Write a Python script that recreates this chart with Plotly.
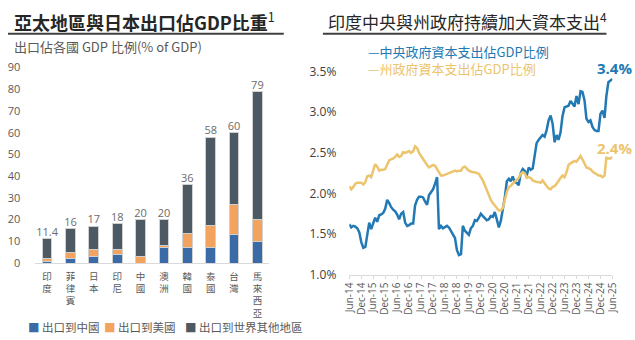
import plotly.graph_objects as go
import pandas as pd

# ---------------- Left chart data ----------------
countries = ["印度", "菲律賓", "日本", "印尼", "中國", "澳洲", "韓國", "泰國", "台灣", "馬來西亞"]
to_china = [0.6, 2.0, 2.9, 3.9, 0.0, 7.3, 7.3, 7.3, 13.0, 10.1]
to_us = [1.6, 2.8, 3.2, 2.2, 2.9, 0.9, 6.5, 9.8, 14.0, 9.9]
to_rest = [9.2, 11.2, 10.9, 11.9, 17.1, 11.8, 22.2, 40.9, 33.0, 59.0]
totals = [11.4, 16, 17, 18, 20, 20, 36, 58, 60, 79]
total_labels = ["11.4", "16", "17", "18", "20", "20", "36", "58", "60", "79"]
left_series_names = ["出口到中國", "出口到美國", "出口到世界其他地區"]
left_colors = ["#3b6ba6", "#f2a35f", "#4d5a63"]

# ---------------- Right chart data ----------------
central_capex = [
    1.62, 1.58, 1.60, 1.59, 1.57, 1.52, 1.40, 1.33, 1.34, 1.50, 1.64, 1.56,
    1.62, 1.70, 1.65, 1.73, 1.74, 1.76, 1.81, 1.92, 1.88, 1.83, 1.80, 1.78,
    1.74, 1.68, 1.75, 1.77, 1.64, 1.60, 1.61, 1.63, 1.63, 1.85, 1.92, 1.96,
    1.96, 1.95, 1.90, 1.86, 1.98, 2.02, 2.05, 2.12, 2.20, 1.56, 1.60, 1.57,
    1.59, 1.60, 1.58, 1.54, 1.50, 1.45, 1.30, 1.24, 1.25, 1.60, 1.54, 1.52,
    1.49, 1.57, 1.60, 1.67, 1.66, 1.70, 1.75, 1.72, 1.69, 1.67, 1.68, 1.72,
    1.71, 1.77, 1.68, 1.58, 1.66, 1.80, 1.95, 2.15, 2.18, 2.15, 2.21, 2.14,
    2.13, 2.10, 2.25, 2.30, 2.28, 2.22, 2.32, 2.29, 2.31, 2.46, 2.62, 2.66,
    2.69, 2.72, 2.70, 2.78, 2.90, 2.96, 2.86, 2.63, 2.72, 2.66, 2.75, 2.95,
    3.06, 3.07, 3.08, 3.14, 3.10, 3.07, 3.20, 3.10, 3.26, 3.25, 3.15, 2.92,
    2.88, 2.90, 2.82, 2.78, 2.77, 2.77, 2.98, 3.02, 2.93, 3.20, 3.37, 3.39,
    3.41,
]
state_capex = [
    2.09, 2.05, 2.08, 2.12, 2.13, 2.13, 2.13, 2.11, 2.14, 2.21, 2.22, 2.20,
    2.30, 2.36, 2.33, 2.28, 2.29, 2.29, 2.30, 2.35, 2.41, 2.42, 2.43, 2.45,
    2.48, 2.45, 2.46, 2.51, 2.50, 2.51, 2.52, 2.50, 2.52, 2.58, 2.56, 2.50,
    2.46, 2.43, 2.39, 2.35, 2.32, 2.34, 2.35, 2.34, 2.30, 2.25, 2.22, 2.22,
    2.23, 2.24, 2.25, 2.26, 2.27, 2.28, 2.27, 2.28, 2.28, 2.32, 2.33, 2.30,
    2.28, 2.27, 2.26, 2.26, 2.25, 2.24, 2.20, 2.16, 2.10, 2.04, 1.97, 1.92,
    1.88, 1.85, 1.81, 1.79, 1.79, 1.82, 1.92, 2.02, 2.08, 2.09, 2.12, 2.14,
    2.16, 2.19, 2.24, 2.26, 2.25, 2.19, 2.20, 2.19, 2.16, 2.15, 2.14, 2.14,
    2.13, 2.16, 2.12, 2.09, 2.06, 2.05, 2.08, 2.09, 2.12, 2.16, 2.19, 2.22,
    2.20, 2.26, 2.35, 2.37, 2.39, 2.40, 2.39, 2.42, 2.46, 2.42, 2.37, 2.32,
    2.31, 2.30, 2.27, 2.25, 2.23, 2.22, 2.22, 2.20, 2.22, 2.44, 2.43, 2.43,
    2.45,
]
months = pd.date_range("2014-06-01", periods=len(central_capex), freq="MS")
x_tick_dates = pd.date_range("2014-06-01", "2025-06-01", freq="6MS")
x_tick_text = [d.strftime("%b-%y") for d in x_tick_dates]
y_right_ticks = [1.0, 1.5, 2.0, 2.5, 3.0, 3.5]
right_names = ["中央政府資本支出佔GDP比例", "州政府資本支出佔GDP比例"]
right_colors = ["#2279b3", "#ecc46e"]
end_labels = ["3.4%", "2.4%"]

FONT = "Open Sans, Noto Sans CJK TC, sans-serif"
CJK = "Noto Sans CJK TC, sans-serif"
W, H = 635, 340

fig = go.Figure()

# ---- left bars ----
for name, vals, col in zip(left_series_names, [to_china, to_us, to_rest], left_colors):
    fig.add_trace(go.Bar(
        x=list(range(len(countries))), y=vals, name=name,
        marker=dict(color=col, line=dict(color="#d0d0d0", width=1)),
        width=0.42, xaxis="x", yaxis="y", showlegend=False, hoverinfo="skip",
    ))
fig.add_trace(go.Scatter(
    x=list(range(len(countries))), y=totals, text=total_labels, mode="text",
    textposition="top center", textfont=dict(size=11, color="#6b6b6b", family=FONT),
    xaxis="x", yaxis="y", showlegend=False, hoverinfo="skip", cliponaxis=False,
))

# ---- right lines ----
for vals, col in zip([central_capex, state_capex], right_colors):
    fig.add_trace(go.Scatter(
        x=months, y=vals, mode="lines", line=dict(color=col, width=2.5),
        xaxis="x2", yaxis="y2", showlegend=False, hoverinfo="skip",
    ))

def px(x):
    return x / W

def py(y):
    return 1 - y / H

fig.update_layout(
    width=W, height=H, margin=dict(l=0, r=0, t=0, b=0),
    paper_bgcolor="white", plot_bgcolor="white", barmode="stack",
    font=dict(family=FONT, color="#404040"),
    xaxis=dict(
        domain=[px(28), px(267)], range=[-0.5, len(countries) - 0.5],
        tickvals=list(range(len(countries))),
        ticktext=["<br>".join(c) for c in countries],
        tickangle=0, tickfont=dict(size=9.5, color="#595959", family=CJK),
        ticklabelstandoff=4,
        showline=True, linecolor="#d9d9d9", linewidth=1, showgrid=False,
        ticks="", zeroline=False, fixedrange=True,
    ),
    yaxis=dict(
        domain=[py(267.5), py(61.5)], range=[0, 90], dtick=10,
        tickfont=dict(size=11, color="#595959"), showgrid=False,
        showline=False, zeroline=False, ticklabelstandoff=14, fixedrange=True,
    ),
    xaxis2=dict(
        domain=[px(349), px(618)], anchor="y2",
        range=[months[0], months[-1]], type="date",
        tickvals=x_tick_dates, ticktext=x_tick_text, tickangle=-90,
        tickfont=dict(size=10, color="#595959"),
        showline=True, linecolor="#d9d9d9", linewidth=1, showgrid=False,
        ticks="outside", ticklen=3, tickcolor="#d9d9d9", zeroline=False,
    ),
    yaxis2=dict(
        domain=[py(279.5), py(66)], anchor="x2", range=[1.0, 3.5],
        tickvals=y_right_ticks, ticktext=[f"{v:.1f}%" for v in y_right_ticks],
        tickfont=dict(size=12, color="#404040"), showgrid=False,
        showline=False, zeroline=False, ticklabelstandoff=12,
    ),
)

annotations = [
    dict(x=px(4), y=py(13), xref="paper", yref="paper", xanchor="left", yanchor="middle",
         text="<b>亞太地區與日本出口佔GDP比重</b><sup>1</sup>", showarrow=False,
         font=dict(size=18, color="#262626", family=CJK)),
    dict(x=px(4), y=py(39), xref="paper", yref="paper", xanchor="left", yanchor="middle",
         text="出口佔各國 GDP 比例(% of GDP)", showarrow=False,
         font=dict(size=13, color="#595959", family=CJK)),
    dict(x=px(325), y=py(13), xref="paper", yref="paper", xanchor="left", yanchor="middle",
         text="印度中央與州政府持續加大資本支出<sup>4</sup>", showarrow=False,
         font=dict(size=17, color="#262626", family=CJK)),
]
# left legend
leg_x = [18, 96, 179]
for name, col, lx in zip(left_series_names, left_colors, leg_x):
    annotations.append(dict(
        x=px(lx), y=py(334.5), xref="paper", yref="paper", xanchor="left", yanchor="middle",
        text=f'<span style="color:{col}">■</span> {name}', showarrow=False,
        font=dict(size=11.5, color="#595959", family=CJK)))
# right legend (single two-line block)
legend_text = "<br>".join(
    f'<span style="color:{col}">—{name}</span>' for name, col in zip(right_names, right_colors))
annotations.append(dict(
    x=px(366), y=py(54), xref="paper", yref="paper", xanchor="left", yanchor="middle",
    align="left", text=legend_text, showarrow=False,
    font=dict(size=13, color=right_colors[0], family=CJK)))
# end labels
end_y = [62, 146]
for lab, col, ey in zip(end_labels, right_colors, end_y):
    annotations.append(dict(
        x=px(640), y=py(ey), xref="paper", yref="paper", xanchor="right", yanchor="middle",
        text=f"<b>{lab}</b>", showarrow=False, font=dict(size=15, color=col, family=FONT)))
fig.update_layout(annotations=annotations)

fig.update_layout(shapes=[
    dict(type="line", xref="paper", yref="paper", x0=0, x1=px(282), y0=py(26), y1=py(26),
         line=dict(color="#404040", width=2)),
    dict(type="line", xref="paper", yref="paper", x0=px(322), x1=px(612), y0=py(26), y1=py(26),
         line=dict(color="#404040", width=2)),
])

fig.write_html("out.html")
